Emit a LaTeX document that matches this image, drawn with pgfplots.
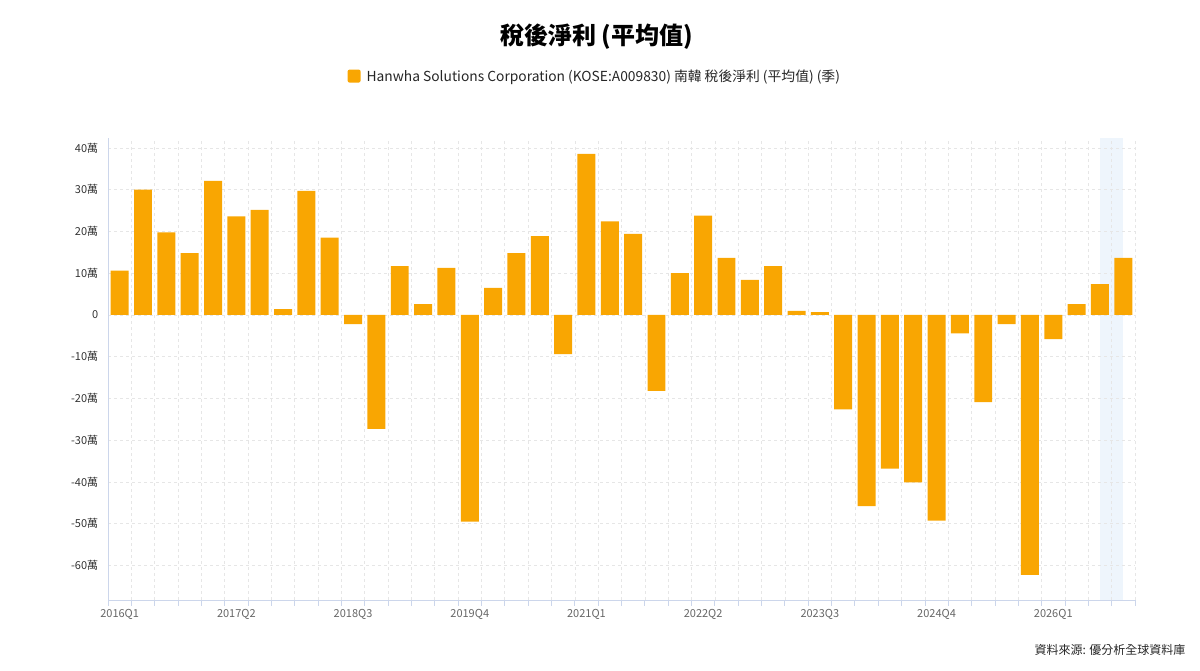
\documentclass[border=0pt]{standalone}
\usepackage{pgfplots}
\usepackage{pgfplotstable}
\pgfplotsset{compat=1.18}
\usepackage{fontspec}
\setmainfont{Noto Sans CJK TC}
\definecolor{barc}{HTML}{F9A602}
\definecolor{axc}{HTML}{CCD6EB}
\definecolor{gridc}{HTML}{E6E6E6}
\definecolor{xlab}{HTML}{666666}
\definecolor{ylab}{HTML}{333333}
\definecolor{band}{HTML}{EEF5FC}

\pgfplotstableread{
x y
0 10.6
1 30.0
2 19.8
3 14.8
4 32.1
5 23.6
6 25.2
7 1.4
8 29.7
9 18.5
10 -2.2
11 -27.3
12 11.7
13 2.6
14 11.3
15 -49.5
16 6.5
17 14.8
18 18.9
19 -9.4
20 38.6
21 22.4
22 19.4
23 -18.2
24 10.0
25 23.8
26 13.7
27 8.4
28 11.7
29 1.0
30 0.7
31 -22.6
32 -45.8
33 -36.8
34 -40.1
35 -49.3
36 -4.4
37 -20.9
38 -2.2
39 -62.3
40 -5.8
41 2.6
42 7.4
43 13.7
}\datatable

\begin{document}
\begin{tikzpicture}
\begin{axis}[
  at={(108pt,71pt)}, anchor=south west,
  scale only axis, width=1027pt, height=462pt,
  set layers,
  xmin=-0.5, xmax=43.5, ymin=-68.3, ymax=42.4,
  axis x line*=bottom, axis y line*=left,
  axis line style={axc, line width=0.8pt, -},
  xtick={0,5,...,40},
  xticklabels={2016Q1,2017Q2,2018Q3,2019Q4,2021Q1,2022Q2,2023Q3,2024Q4,2026Q1},
  minor xtick={-0.5,0.5,...,43.5},
  xminorgrids=true, xmajorgrids=false,
  ymajorgrids=true,
  ytick={-60,-50,-40,-30,-20,-10,0,10,20,30,40},
  yticklabels={-60萬,-50萬,-40萬,-30萬,-20萬,-10萬,0,10萬,20萬,30萬,40萬},
  major x tick style={draw=none},
  minor x tick style={axc, line width=0.8pt},
  tick align=outside,
  minor tick length=6pt,
  major y tick style={draw=none},
  grid style={gridc, dash pattern=on 3pt off 3pt, line width=0.6pt},
  minor grid style={gridc, dash pattern=on 3pt off 3pt, line width=0.6pt},
  x tick label style={font=\fontsize{11}{13}\selectfont, text=xlab, yshift=-1pt},
  y tick label style={font=\fontsize{11}{13}\selectfont, text=ylab, xshift=-2pt},
  title={稅後淨利 (平均值)},
  title style={at={(axis description cs:0.476,1.206)}, anchor=center, font=\fontsize{24}{28}\selectfont\bfseries},
  legend style={at={(axis description cs:0.474,1.134)}, anchor=center, draw=none, fill=none,
    font=\fontsize{13.8}{16}\selectfont, text=black!85},
  legend image code/.code={\fill[barc, rounded corners=2pt] (0pt,-6.5pt) rectangle (13pt,6.5pt);},
]
\addplot[fill=band, draw=none, on layer=axis background, forget plot]
  coordinates {(42,-68.3) (43,-68.3) (43,42.4) (42,42.4)} -- cycle;
\addplot[ybar, bar width=0.77, bar shift=0pt, fill=barc, draw=none] table[x=x, y=y] {\datatable};
\addlegendentry{\hspace{4pt}Hanwha Solutions Corporation (KOSE:A009830) 南韓 稅後淨利 (平均值) (季)}
\end{axis}
\node[anchor=east, font=\fontsize{12}{14}\selectfont, text=black!85] at (1189pt,21pt) {資料來源: 優分析全球資料庫};
\path (0pt,0pt) rectangle (1200pt,671pt);
\end{tikzpicture}
\end{document}
